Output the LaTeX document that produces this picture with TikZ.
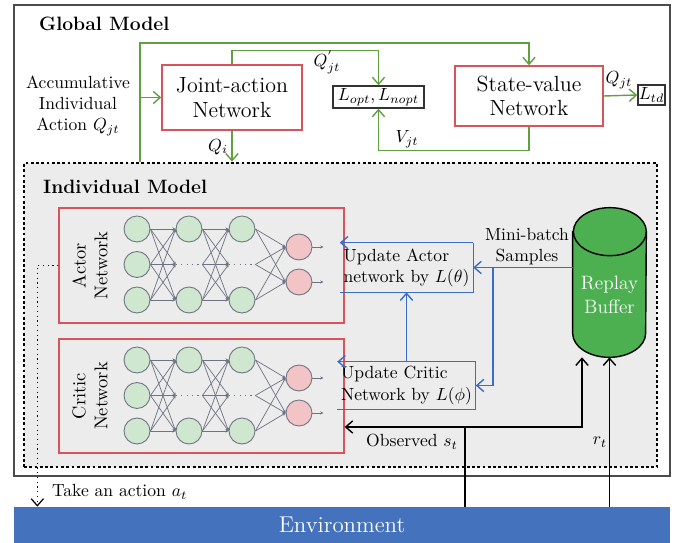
\documentclass[tikz,border=0pt]{standalone}
\usepackage{amsmath}
\usepackage{xcolor}
\usepackage{tikz}
\usetikzlibrary{positioning, arrows.meta, shapes.geometric}
\definecolor{netred}{RGB}{217,83,90}
\definecolor{linegreen}{RGB}{96,160,64}
\definecolor{lineblue}{RGB}{58,110,196}
\definecolor{envblue}{RGB}{68,114,188}
\definecolor{bufgreen}{RGB}{76,175,80}
\definecolor{panelgray}{RGB}{236,236,236}
\definecolor{nodegreen}{RGB}{207,230,207}
\definecolor{nodepink}{RGB}{242,196,198}
\definecolor{edgegray}{RGB}{110,114,130}

\begin{document}
\begin{tikzpicture}[x=0.02cm,y=-0.02cm,
  netbox/.style={draw=netred, line width=0.8pt, align=center, inner sep=0pt,
                 font=\fontsize{12.5}{14}\selectfont},
  lossbox/.style={draw=black!80, line width=0.8pt, inner sep=0pt, font=\fontsize{10}{12}\selectfont},
  title/.style={font=\fontsize{11}{13}\selectfont\bfseries, anchor=west},
  txt/.style={font=\fontsize{10}{12}\selectfont, align=center},
  neuron/.style={circle, draw=edgegray, line width=0.5pt, minimum size=0.52cm, inner sep=0pt},
  ghost/.style={circle, minimum size=0.52cm, inner sep=0pt},
  synapse/.style={-{Stealth[length=1.8pt,width=1.8pt]}, draw=edgegray, line width=0.4pt},
  gap/.style={draw=edgegray, line width=0.7pt, dash pattern=on 0.7pt off 2.4pt},
  garrow/.style={-{Straight Barb[length=4pt,width=7pt]}, draw=linegreen, line width=0.8pt},
  barrow/.style={-{Straight Barb[length=4pt,width=7pt]}, draw=lineblue, line width=0.8pt},
  bline/.style={draw=lineblue, line width=0.8pt},
  karrow/.style={-{Straight Barb[length=4pt,width=7pt]}, draw=black, line width=0.8pt},
  kline/.style={draw=black, line width=0.8pt}]

  \useasboundingbox (0,0) rectangle (683,543);

  %% Panels
  \node[draw=black!70, line width=1.1pt, fill=white, minimum width=13.12cm, minimum height=9.42cm]
    (global) at (342,240.5) {};
  \node[fill=envblue, minimum width=13.12cm, minimum height=0.72cm, text=white,
        font=\fontsize{13}{15}\selectfont] (env) at (342,525) {Environment};
  \node[draw=black, fill=panelgray, line width=1.6pt, dash pattern=on 1.6pt off 1.4pt,
        minimum width=12.66cm, minimum height=6.08cm] (indiv) at (340.5,315) {};
  \node[title] (gtitle) at (33,24) {Global Model};
  \node[title] (ititle) at (37,187) {Individual Model};

  %% Global model
  \node[netbox, minimum width=2.8cm, minimum height=1.3cm] (joint) at (232,97.5) {Joint-action\\Network};
  \node[netbox, minimum width=2.96cm, minimum height=1.2cm] (state) at (529,96) {State-value\\Network};
  \node[lossbox, minimum width=1.82cm, minimum height=0.44cm] (loss) at (378.5,97) {$L_{opt},L_{nopt}$};
  \node[lossbox, minimum width=0.54cm, minimum height=0.4cm] (ltd) at (651.5,95) {$L_{td}$};
  \node[txt] (accum) at (78,106) {Accumulative\\Individual\\Action $Q_{jt}$};

  \coordinate (gin) at (140,0 |- indiv.north);
  \draw[garrow] (gin) -- (140,43) -| (state.north);
  \draw[garrow] (gin |- joint.west) -- (joint.west);
  \draw[garrow] (joint.north) -- ++(0,-14) -| (loss.north);
  \draw[garrow] (joint.south) -- (joint.south |- indiv.north);
  \draw[garrow] (state.east) -- (ltd.west);
  \draw[garrow] (state.south) -- ++(0,24) -| (loss.south);
  \node[txt] (lqp) at (327,62) {$Q^{'}_{jt}$};
  \node[txt] (lqi) at (218,147) {$Q_{i}$};
  \node[txt] (lqjt) at (619,80) {$Q_{jt}$};
  \node[txt] (lvjt) at (407,139) {$V_{jt}$};

  %% Actor and critic networks
  \node[netbox, fill=panelgray, minimum width=5.7cm, minimum height=2.3cm] (actor) at (201.5,265.5) {};
  \node[netbox, fill=panelgray, minimum width=5.7cm, minimum height=2.28cm] (critic) at (201.5,396) {};
  \node[txt, rotate=90, font=\fontsize{10.5}{12.5}\selectfont] (actlbl) at (90,265.5) {Actor\\Network};
  \node[txt, rotate=90, font=\fontsize{10.5}{12.5}\selectfont] (critlbl) at (90,396) {Critic\\Network};

  \foreach \net/\yo in {a/0,c/131} {
    \foreach \r/\y in {1/229,2/264.5,3/300}
      \node[neuron, fill=nodegreen] (\net1-\r) at (137,\y+\yo) {};
    \foreach \l/\x in {2/189,3/242} {
      \node[neuron, fill=nodegreen] (\net\l-1) at (\x,229+\yo) {};
      \node[ghost] (\net\l-2) at (\x,264.5+\yo) {};
      \node[neuron, fill=nodegreen] (\net\l-3) at (\x,300+\yo) {};
      \draw[gap] (\net\l-2.west) -- (\net\l-2.east);
    }
    \node[neuron, fill=nodepink] (\net o-1) at (299,247+\yo) {};
    \node[neuron, fill=nodepink] (\net o-2) at (299,282+\yo) {};
    \foreach \i in {1,2,3} {
      \foreach \j in {1,2,3} {
        \draw[synapse] (\net1-\i.east) -- (\net2-\j.west);
        \draw[synapse] (\net2-\i.east) -- (\net3-\j.west);
      }
      \draw[synapse] (\net3-\i.east) -- (\net o-1.west);
      \draw[synapse] (\net3-\i.east) -- (\net o-2.west);
    }
    \draw[synapse] (\net o-1.east) -- ++(11,0);
    \draw[synapse] (\net o-2.east) -- ++(11,0);
  }

  %% Updates and replay buffer
  \node[txt, align=left, minimum width=2.5cm, minimum height=0.98cm, inner sep=2pt] (upda) at (406.5,267.5)
    {Update Actor\\network by $L(\theta)$};
  \node[txt, align=left, minimum width=2.5cm, minimum height=0.94cm, inner sep=2pt] (updc) at (406.5,385.5)
    {Update Critic\\Network by $L(\phi)$};
  \draw[bline] (upda.north east) -- (upda.south east) -- (upda.south west);
  \draw[barrow] (upda.north east) -- (upda.north west);
  \draw[bline] (updc.north east) -- (updc.south east) -- (updc.south west);
  \draw[barrow] (updc.north east) -- (updc.north west);
  \draw[barrow] (updc.north) -- (upda.south);

  \node[minimum width=1.46cm, minimum height=2.98cm, inner sep=0pt] (buffer) at (609.5,282.5) {};
  \draw[fill=bufgreen, line width=0.8pt] ([yshift=-0.48cm]buffer.north west)
    -- ([yshift=0.48cm]buffer.south west) arc[start angle=180, end angle=360, x radius=0.73cm, y radius=0.48cm]
    -- ([yshift=-0.48cm]buffer.north east) arc[start angle=0, end angle=180, x radius=0.73cm, y radius=0.48cm]
    -- cycle;
  \draw[line width=0.8pt] ([yshift=-0.48cm]buffer.north east)
    arc[start angle=0, end angle=-180, x radius=0.73cm, y radius=0.48cm];
  \node[txt, text=white, font=\fontsize{11}{13.5}\selectfont] (buftext) at (609.5,295) {Replay\\Buffer};

  \coordinate (mb) at (493,0 |- upda.east);
  \draw[barrow] (buffer.west |- upda.east) -- (upda.east);
  \draw[barrow] (mb) |- (updc.east);
  \node[txt] (mblbl) at (527,247) {Mini-batch\\Samples};

  %% Environment loop
  \coordinate (sjoin) at (465,427);
  \draw[kline] (env.north -| sjoin) -- (sjoin);
  \draw[karrow] (sjoin) -- (sjoin -| critic.east);
  \draw[karrow] (sjoin) -| ([xshift=-0.55cm]buffer.south);
  \draw[karrow] (env.north -| buffer.south) -- (buffer.south);
  \node[txt] (lobs) at (412,442) {Observed $s_t$};
  \node[txt] (lrt) at (600,442) {$r_t$};

  \draw[-{Straight Barb[length=4pt,width=7pt]}, dotted, line width=0.7pt]
    (actor.west) -- ++(-21,0) coordinate (ta) -- (ta |- env.north);
  \node[txt, anchor=west] (lact) at (46,492) {Take an action $a_t$};
\end{tikzpicture}
\end{document}
